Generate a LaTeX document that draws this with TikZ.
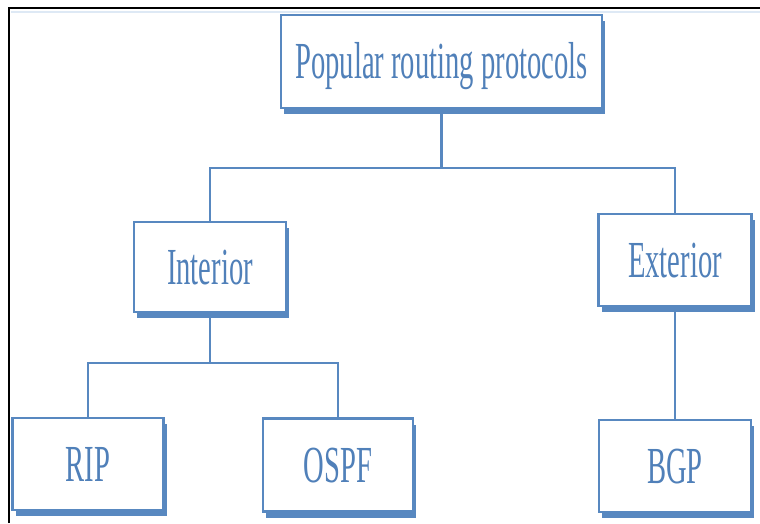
\documentclass[tikz,border=0pt]{standalone}
\usepackage{fontspec}
\setmainfont{Liberation Serif}[FakeStretch=0.55]
\usetikzlibrary{shadows}
\definecolor{boxblue}{RGB}{88,136,192}
\definecolor{textblue}{RGB}{80,128,185}
\definecolor{paleblue}{RGB}{222,233,245}
\tikzset{
  protobox/.style={draw=boxblue, line width=2.6pt, fill=white,
    inner sep=0pt, text=textblue,
    font=\fontsize{52}{56}\selectfont,
    text height=34pt, text depth=0pt,
    drop shadow={shadow xshift=3pt, shadow yshift=-6pt, fill=boxblue, opacity=1}},
  link/.style={draw=boxblue, line width=2.6pt},
  frame/.style={line width=2.6pt, black}
}
\begin{document}
\begin{tikzpicture}[x=1pt, y=-1pt]
\useasboundingbox (0,0) rectangle (760,523);

% page frame
\coordinate (fA) at (9,523);
\coordinate (fB) at (9,8);
\coordinate (fC) at (760,8);
\draw[frame] (fA) -- (fB) -- (fC);
\coordinate (pA) at (11,12);
\coordinate (pB) at (760,12);
\draw[paleblue, line width=1.5pt] (pA) -- (pB);

% protocol boxes
\node[protobox, minimum width=321pt, minimum height=93pt] (top) at (441.5,61.5) {Popular routing protocols};
\node[protobox, minimum width=152pt, minimum height=90pt] (interior) at (210,267) {Interior};
\node[protobox, minimum width=153pt, minimum height=92pt] (exterior) at (675,260) {Exterior};
\node[protobox, minimum width=151pt, minimum height=92pt] (rip) at (88,464) {RIP};
\node[protobox, minimum width=150pt, minimum height=93pt] (ospf) at (338,465) {OSPF};
\node[protobox, minimum width=152pt, minimum height=92pt] (bgp) at (675,466) {BGP};

% bus levels
\coordinate (bus1) at (0,168);
\coordinate (bus2) at (0,363);

% connectors
\draw[link] (top.south) -- (top.south |- bus1);
\draw[link] (interior.north) -- (interior.north |- bus1) -- (exterior.north |- bus1) -- (exterior.north);
\draw[link] (interior.south) -- (interior.south |- bus2);
\draw[link] (rip.north) -- (rip.north |- bus2) -- (ospf.north |- bus2) -- (ospf.north);
\draw[link] (exterior.south) -- (bgp.north);
\end{tikzpicture}
\end{document}
